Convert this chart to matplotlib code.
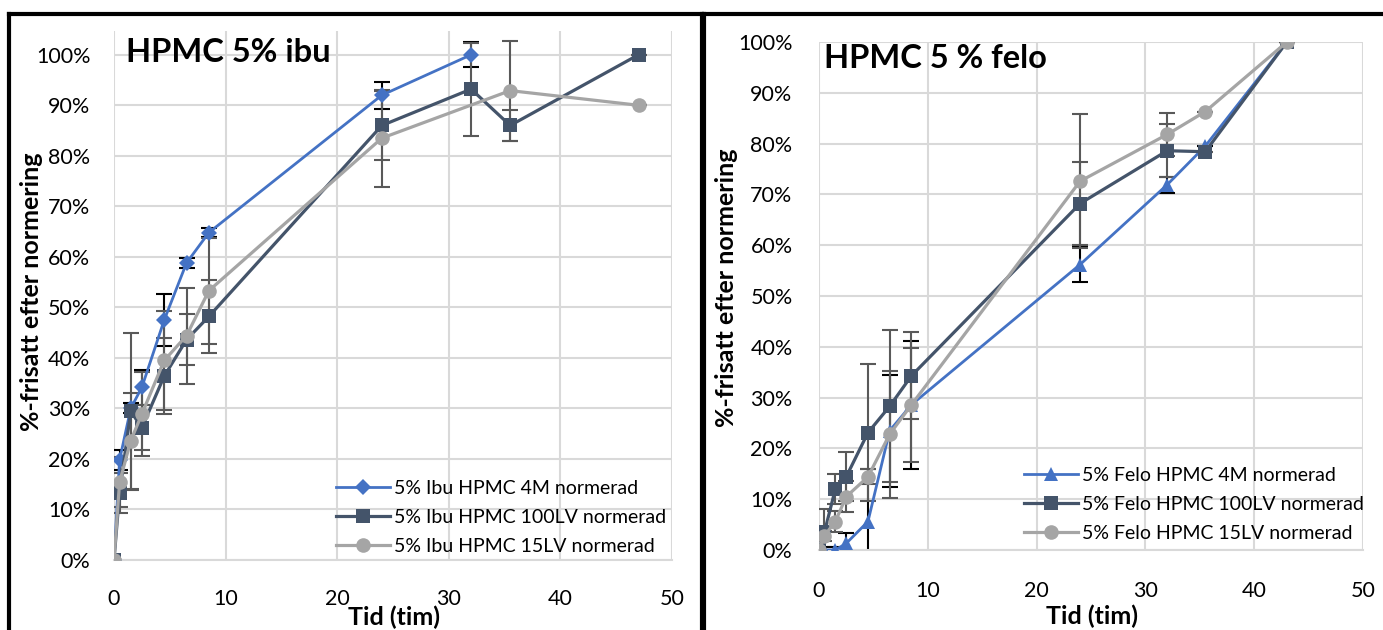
import matplotlib
matplotlib.use("Agg")
import matplotlib.pyplot as plt
from matplotlib.lines import Line2D

plt.rcParams['font.family'] = ['Lato', 'DejaVu Sans']

# ---------------- data: left panel (ibuprofen) ----------------
ibu_t_4m = [0, 0.5, 1.5, 2.5, 4.5, 6.5, 8.5, 24, 32]
ibu_4m = [0.0, 0.198, 0.30, 0.342, 0.475, 0.588, 0.648, 0.92, 1.00]
ibu_4m_err = [0, 0.02, 0.01, 0.035, 0.052, 0.01, 0.009, 0.027, 0.025]

ibu_t_100 = [0, 0.5, 1.5, 2.5, 4.5, 6.5, 8.5, 24, 32, 35.5, 47]
ibu_100 = [0.0, 0.133, 0.294, 0.262, 0.364, 0.436, 0.482, 0.86, 0.932, 0.86, 1.00]
ibu_100_err = [0, 0.04, 0.156, 0.044, 0.075, 0.05, 0.072, 0.069, 0.092, 0.03, 0]

ibu_t_15 = [0, 0.5, 1.5, 2.5, 4.5, 6.5, 8.5, 24, 35.5, 47]
ibu_15 = [0.0, 0.154, 0.236, 0.289, 0.395, 0.444, 0.533, 0.835, 0.929, 0.90]
ibu_15_err = [0, 0.05, 0.095, 0.084, 0.098, 0.095, 0.105, 0.096, 0.099, 0]

ibu_labels = ["5% Ibu HPMC 4M normerad", "5% Ibu HPMC 100LV normerad",
              "5% Ibu HPMC 15LV normerad"]

# ---------------- data: right panel (felodipine) ----------------
felo_t_4m = [0, 0.5, 1.5, 2.5, 4.5, 6.5, 8.5, 24, 32, 35.5, 43]
felo_4m = [0.0, 0.0, 0.0, 0.013, 0.056, 0.235, 0.286, 0.562, 0.719, 0.795, 1.00]
felo_4m_err = [0, 0.005, 0.005, 0.02, 0.103, 0.11, 0.126, 0.034, 0.016, 0, 0]

felo_t_100 = [0, 0.5, 1.5, 2.5, 4.5, 6.5, 8.5, 24, 32, 35.5, 43]
felo_100 = [0.0, 0.035, 0.12, 0.144, 0.231, 0.283, 0.343, 0.682, 0.786, 0.784, 1.00]
felo_100_err = [0, 0.045, 0.03, 0.048, 0.135, 0.15, 0.086, 0.082, 0.052, 0, 0]

felo_t_15 = [0, 0.5, 1.5, 2.5, 4.5, 6.5, 8.5, 24, 32, 35.5, 43]
felo_15 = [0.0, 0.028, 0.056, 0.105, 0.144, 0.228, 0.286, 0.726, 0.818, 0.863, 1.00]
felo_15_err = [0, 0.01, 0.02, 0.03, 0.015, 0.125, 0.112, 0.132, 0.042, 0, 0]

felo_labels = ["5% Felo HPMC 4M normerad", "5% Felo HPMC 100LV normerad",
               "5% Felo HPMC 15LV normerad"]

y_ticks = [0, 0.1, 0.2, 0.3, 0.4, 0.5, 0.6, 0.7, 0.8, 0.9, 1.0]
y_ticklabels = ["0%", "10%", "20%", "30%", "40%", "50%", "60%", "70%", "80%", "90%", "100%"]
x_ticks = [0, 10, 20, 30, 40, 50]

C_BLUE = "#4472C4"
C_DARK = "#44546A"
C_GRAY = "#A5A5A5"
C_ERR_DARK = "#595959"
GRID = "#D9D9D9"

W, H = 1383, 630
fig = plt.figure(figsize=(W / 100, H / 100), dpi=100)


def px_axes(x0, x1, y_bottom, y_top):
    return fig.add_axes([x0 / W, (H - y_bottom) / H, (x1 - x0) / W, (y_bottom - y_top) / H])


def style(ax, ytop, ypad, xpad):
    ax.set_xlim(0, 50)
    ax.set_ylim(0, ytop)
    ax.set_xticks(x_ticks)
    ax.set_yticks(y_ticks)
    ax.set_yticklabels(y_ticklabels)
    ax.grid(True, color=GRID, linewidth=1.5, zorder=0)
    ax.set_axisbelow(True)
    for s in ['top', 'right', 'left']:
        ax.spines[s].set_visible(False)
    ax.spines['bottom'].set_color(GRID)
    ax.spines['bottom'].set_linewidth(1.5)
    ax.tick_params(length=0, labelsize=15.5, colors="black")
    ax.tick_params(axis='y', pad=ypad)
    ax.tick_params(axis='x', pad=xpad)
    ax.set_facecolor('none')


def series(ax, t, v, e, color, marker, ms, ecol, lw, label, z):
    ax.errorbar(t, v, yerr=e, fmt='none', ecolor=ecol, elinewidth=1.5,
                capsize=6, capthick=1.5, zorder=2)
    ax.plot(t, v, color=color, marker=marker, markersize=ms, linewidth=lw,
            label=label, zorder=z, markeredgewidth=0)


def txt(x, y, s, **kw):
    fig.text(x / W, 1 - y / H, s, ha='center', va='center', **kw)


LEG = dict(frameon=False, fontsize=14, handlelength=2.8, handletextpad=0.2,
           labelspacing=0.62, borderpad=0, borderaxespad=0, loc='upper left')

# ---------------- left panel ----------------
axL = px_axes(114, 672, 560, 31)
style(axL, 1.047, 17, 21)
series(axL, ibu_t_4m, ibu_4m, ibu_4m_err, C_BLUE, 'D', 8.5, "black", 2.0, ibu_labels[0], 3)
series(axL, ibu_t_100, ibu_100, ibu_100_err, C_DARK, 's', 10, C_ERR_DARK, 2.3, ibu_labels[1], 4)
series(axL, ibu_t_15, ibu_15, ibu_15_err, C_GRAY, 'o', 10.5, C_ERR_DARK, 2.3, ibu_labels[2], 5)
txt(394, 617, "Tid (tim)", fontsize=18, fontweight='bold')
txt(32, 292, "%-frisatt efter normering", fontsize=18, fontweight='bold', rotation=90)
fig.text(126 / W, 1 - 52 / H, "HPMC 5% ibu", fontsize=23.5, fontweight='bold',
         va='center', ha='left')
hL, lL = axL.get_legend_handles_labels()
axL.legend(hL, lL, bbox_to_anchor=(336 / W, 1 - 480 / H), bbox_transform=fig.transFigure, **LEG)

# ---------------- right panel ----------------
axR = px_axes(819, 1363, 550, 42)
style(axR, 1.0, 19, 22)
series(axR, felo_t_4m, felo_4m, felo_4m_err, C_BLUE, '^', 10, "black", 2.0, felo_labels[0], 3)
series(axR, felo_t_100, felo_100, felo_100_err, C_DARK, 's', 10, C_ERR_DARK, 2.3, felo_labels[1], 4)
series(axR, felo_t_15, felo_15, felo_15_err, C_GRAY, 'o', 10.5, C_ERR_DARK, 2.3, felo_labels[2], 5)
txt(1092, 616, "Tid (tim)", fontsize=18, fontweight='bold')
txt(727, 288, "%-frisatt efter normering", fontsize=18, fontweight='bold', rotation=90)
fig.text(824 / W, 1 - 59 / H, "HPMC 5 % felo", fontsize=23.5, fontweight='bold',
         va='center', ha='left')
hR, lR = axR.get_legend_handles_labels()
axR.legend(hR, lR, bbox_to_anchor=(1024 / W, 1 - 467 / H), bbox_transform=fig.transFigure, **LEG)

# ---------------- panel frames ----------------
def fline(xs, ys, lw=3):
    fig.add_artist(Line2D([x / W for x in xs], [1 - y / H for y in ys],
                          color='black', linewidth=lw, transform=fig.transFigure))

fline([9, 9], [14, 632])
fline([9, 702], [14, 14])
fline([702, 702], [14, 632])
fline([704, 704], [14, 632])
fline([704, 1385], [14, 14])

fig.savefig("out.png", dpi=100)
